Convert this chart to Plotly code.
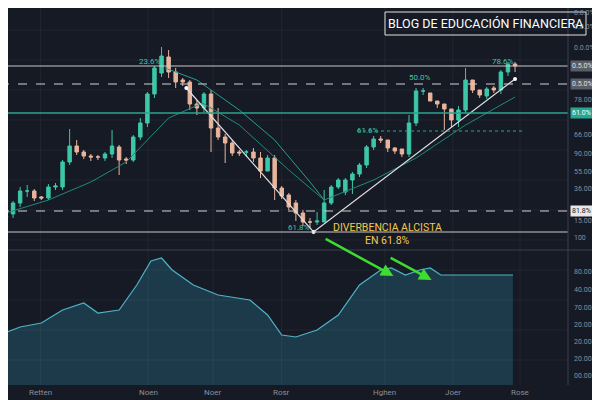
import plotly.graph_objects as go

# price in chart units (higher = up)
opens = [217,214,203,191,191,197,198,187,187,162,146,152,156,157,158,154,147,159,160,137,123,94,73,57,72,80,82,104,108,94,128,137,143,152,152,152,158,171,158,188,195,203,213,222,222,222,203,187,192,180,174,165,147,139,140,148,149,154,123,91,93,101,104,109,120,110,80,90,96,88,90,72,64]
closes= [216,203,191,191,198,198,187,186,162,146,152,156,157,157,154,146,160,160,137,123,94,68,56,72,82,82,104,108,94,128,137,143,153,153,152,158,171,158,188,196,207,213,222,222,221,203,187,180,180,174,165,147,139,140,148,151,154,123,91,91,101,104,109,120,110,80,90,95,89,90,72,64,66]
highs = [214,201,187,185,189,196,184,183,160,129,140,150,154,155,152,130,145,157,135,118,92,66,47,50,68,78,80,100,92,90,108,134,140,150,150,148,152,155,155,186,193,200,210,218,212,190,185,178,178,172,163,145,136,136,146,147,150,115,88,88,98,101,106,117,106,68,86,90,87,86,70,62,62]
lows  = [220,218,207,197,201,200,200,190,190,165,155,159,161,160,161,158,175,164,162,140,127,98,77,78,88,86,110,115,112,152,140,163,156,156,157,162,178,165,200,199,210,221,226,228,225,222,205,189,195,194,177,168,150,143,152,154,157,157,126,95,96,108,130,127,127,113,93,98,99,93,94,76,72]

ma_fast_x = [0, 6, 12, 17, 20, 23, 27.8, 33, 40, 45, 52, 58, 65, 72]
ma_fast_y = [213, 200, 182, 162, 140, 118, 103, 125, 170, 200, 180, 158, 125, 97]
ma_slow_x = [22.5, 27, 33, 38, 43, 45]
ma_slow_y = [68, 80, 110, 140, 182, 200]
trend_x = [25.5, 43.5, 72]
trend_y = [88, 232, 79]

osc_x = [-1, 2, 5, 8, 11, 13, 16, 18.5, 20.5, 22, 23.5, 26.5, 30, 34.5, 37, 39, 41, 44, 47, 50, 53, 54.5, 56.5, 58.5, 60, 61.5, 71.7]
osc_y = [50, 58, 62, 75, 82, 72, 75, 100, 124, 127, 115, 100, 90, 85, 70, 50, 48, 55, 70, 100, 115, 117, 110, 115, 117, 110, 110]

ticks_x = [4.9, 20.1, 29.3, 39, 53.6, 63.2, 72.7]
ticks_t = ["Retten", "Noen", "Noer", "Rosr", "Hghen", "Joer", "Rose"]

axis_labels = [("0.0.0%", 13), ("0.0.0%", 27), ("0.0.0%", 48), ("78.00%", 100), ("66.000", 135),
               ("90.000", 154), ("55.000", 172), ("36.00%", 189), ("15.00%", 221), ("100", 238),
               ("80.00", 272), ("40.00", 290), ("70.00", 308), ("20.00", 325), ("20.00", 342),
               ("20.00", 359), ("00.00", 376)]

def py(v):  # pixel y -> data y
    return 400 - v

def X(p):  # pixel x -> data x
    return (p - 6) / 7.07

fig = go.Figure()
fig.add_trace(go.Candlestick(x=list(range(len(opens))), open=[py(v) for v in opens], close=[py(v) for v in closes],
                             high=[py(v) for v in highs], low=[py(v) for v in lows],
                             increasing=dict(line=dict(color="#3cc7a8", width=1), fillcolor="#3cc7a8"),
                             decreasing=dict(line=dict(color="#e9b49c", width=1), fillcolor="#e9b49c"),
                             whiskerwidth=0, showlegend=False))
fig.add_trace(go.Scatter(x=ma_fast_x, y=[py(v) for v in ma_fast_y], mode="lines", line=dict(color="#1f8a7c", width=1)))
fig.add_trace(go.Scatter(x=ma_slow_x, y=[py(v) for v in ma_slow_y], mode="lines", line=dict(color="#2a9d8c", width=1)))
fig.add_trace(go.Scatter(x=trend_x, y=[py(v) for v in trend_y], mode="lines+markers",
                         line=dict(color="#e0e0e0", width=1.2), marker=dict(size=4, color="#ffffff")))
fig.add_trace(go.Scatter(x=osc_x, y=[py(385)] * len(osc_x), mode="lines", line=dict(width=0), hoverinfo="skip"))
fig.add_trace(go.Scatter(x=osc_x, y=[py(385 - v) for v in osc_y], mode="lines", fill="tonexty",
                         fillcolor="rgba(40,120,140,0.35)", line=dict(color="#4fb3c8", width=1.2)))

shapes = []
def hline(y, x0, x1, color, dash="solid", w=1):
    shapes.append(dict(type="line", xref="x", yref="y", x0=X(x0), x1=X(x1), y0=py(y), y1=py(y),
                       line=dict(color=color, dash=dash, width=w)))
def vline(x, y0, y1, color):
    shapes.append(dict(type="line", xref="x", yref="y", x0=X(x), x1=X(x), y0=py(y0), y1=py(y1),
                       line=dict(color=color, width=1)))
hline(66, 0, 568, "#c8c8c8")
hline(84, 0, 568, "#d0d0d0", "dash")
hline(113, 0, 568, "#2aa58f", w=1.5)
hline(131, 357, 525, "#2aa58f", "dot")
hline(211, 0, 568, "#d0d0d0", "dash")
hline(232, 0, 568, "#c8c8c8")
hline(250, 0, 600, "#3a3f4c")
for gy in [30, 60, 90, 120, 150, 180, 210, 240, 270, 300, 330, 360]:
    hline(gy, 0, 568, "rgba(255,255,255,0.05)")
for gx in ticks_x:
    shapes.append(dict(type="line", xref="x", yref="y", x0=gx, x1=gx, y0=py(385), y1=py(0),
                       line=dict(color="rgba(255,255,255,0.05)", width=1)))
vline(568, 0, 385, "#3a3f4c")
shapes.append(dict(type="rect", xref="x", yref="y", x0=X(385), x1=X(586), y0=py(12), y1=py(35),
                   line=dict(color="#e0e0e0", width=1)))

ann = []
for t, y in axis_labels:
    ann.append(dict(x=X(572), y=py(y), text=t, showarrow=False, xanchor="left",
                    font=dict(color="#8a8f9c", size=7)))
for t, y, bg, fc in [("0.5.0%", 66, "#5a5d66", "#e0e0e0"), ("0.5.0%", 84, "#5a5d66", "#e0e0e0"),
                     ("61.0%", 113, "#2aa58f", "#ffffff"), ("81.8%", 211, "#e8e8e8", "#222")]:
    ann.append(dict(x=X(570), y=py(y), text=t, showarrow=False, xanchor="left",
                    bgcolor=bg, font=dict(color=fc, size=7), borderpad=1))
for t, x, y in [("23.6%", 20.3, 61), ("61.8%", 41.5, 227), ("50.0%", 58.5, 77), ("61.6%", 51.2, 130), ("78.6%", 70.3, 61)]:
    ann.append(dict(x=x, y=py(y), text=t, showarrow=False, font=dict(color="#3cc7a8", size=8)))
ann.append(dict(x=X(485), y=py(23), text="BLOG DE EDUCACIÓN FINANCIERA", showarrow=False,
                font=dict(color="#ffffff", size=12.5, family="Roboto")))
ann.append(dict(x=54, y=py(227), text="DIVERBENCIA ALCISTA", showarrow=False, font=dict(color="#f2c94c", size=10.5)))
ann.append(dict(x=54, y=py(240), text="EN 61.8%", showarrow=False, font=dict(color="#f2c94c", size=10.5)))
for (x0, y0, x1, y1) in [(45, 238, 54.8, 276), (54.2, 257, 60.2, 280)]:
    ann.append(dict(x=x1, y=py(y1), ax=x0, ay=py(y0), axref="x", ayref="y", text="", showarrow=True,
                    arrowhead=2, arrowsize=1, arrowwidth=2.5, arrowcolor="#3ddc2f"))
for t, x in zip(ticks_t, ticks_x):
    ann.append(dict(x=x, y=py(392), text=t, showarrow=False, font=dict(color="#8a8f9c", size=8)))

fig.update_layout(width=592, height=392, margin=dict(l=0, r=0, t=0, b=0), paper_bgcolor="#161a25",
                  plot_bgcolor="#161a25", showlegend=False, shapes=shapes, annotations=ann,
                  xaxis=dict(range=[X(8), X(600)], visible=False, rangeslider=dict(visible=False), fixedrange=True),
                  yaxis=dict(range=[0, 392], visible=False, fixedrange=True),
                  font=dict(family="Roboto"))
fig.write_html("out.html")
